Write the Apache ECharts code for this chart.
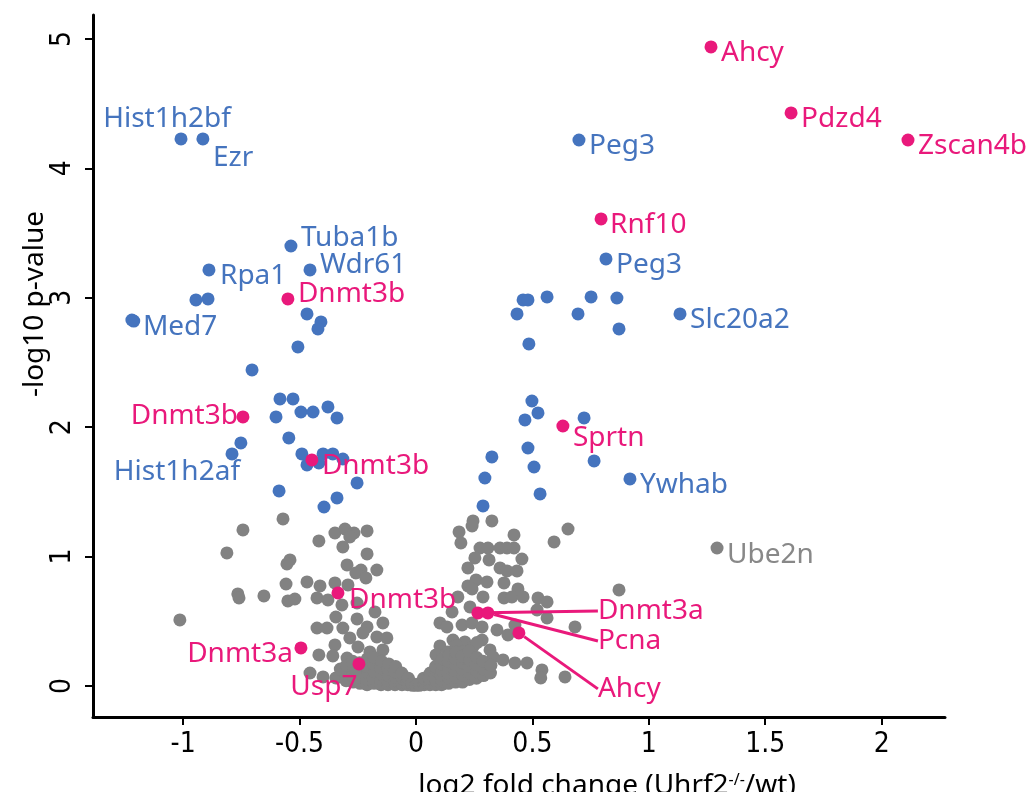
<!DOCTYPE html>
<html>
<head>
<meta charset="utf-8">
<script src="https://cdn.jsdelivr.net/npm/echarts@6/dist/echarts.min.js"></script>
<style>
  html, body { margin: 0; padding: 0; background: #fff; }
  #chart { width: 1027px; height: 792px; }
</style>
</head>
<body>
<div id="chart"></div>
<script>
// Volcano plot: log2 fold change (Uhrf2-/-/wt) vs -log10 p-value

const xTicks = [-1, -0.5, 0, 0.5, 1, 1.5, 2];
const yTicks = [0, 1, 2, 3, 4, 5];

// not significant, unlabeled
const grayPoints = [
  [0.872, 0.742], [-1.014, 0.510], [-0.743, 1.206], [-0.571, 1.291], [-0.812, 1.028],
  [-0.541, 0.974], [-0.554, 0.943], [-0.765, 0.711], [-0.760, 0.680], [-0.653, 0.696],
  [-0.558, 0.788], [-0.550, 0.657], [-0.520, 0.672], [-0.468, 0.804], [-0.417, 1.121],
  [-0.348, 1.182], [-0.305, 1.213], [-0.266, 1.182], [-0.284, 1.151], [-0.210, 1.198],
  [-0.314, 1.074], [-0.210, 1.020], [-0.296, 0.935], [-0.236, 0.896], [-0.168, 0.896],
  [-0.258, 0.873], [-0.215, 0.835], [-0.412, 0.773], [-0.348, 0.796], [-0.292, 0.781],
  [-0.425, 0.680], [-0.378, 0.665], [-0.318, 0.626], [-0.344, 0.533], [-0.425, 0.448],
  [-0.382, 0.448], [-0.314, 0.448], [-0.253, 0.518], [-0.210, 0.456], [-0.176, 0.572],
  [-0.142, 0.487], [-0.284, 0.371], [-0.228, 0.410], [-0.168, 0.379], [-0.125, 0.371],
  [-0.348, 0.317], [-0.249, 0.301], [-0.198, 0.263], [-0.142, 0.278], [-0.417, 0.240],
  [-0.357, 0.232], [-0.296, 0.216], [-0.455, 0.100], [-0.399, 0.070], [-0.344, 0.062],
  [-0.253, 0.641],
  [0.245, 1.275], [0.241, 1.236], [0.326, 1.275], [0.185, 1.190], [0.193, 1.105],
  [0.421, 1.167], [0.653, 1.213], [0.593, 1.113], [0.275, 1.066], [0.309, 1.066],
  [0.361, 1.066], [0.391, 1.066], [0.421, 1.066], [0.253, 0.989], [0.314, 0.974],
  [0.455, 0.981], [0.223, 0.912], [0.361, 0.912], [0.391, 0.889], [0.434, 0.889],
  [0.223, 0.773], [0.258, 0.819], [0.305, 0.804], [0.378, 0.796], [0.438, 0.750],
  [0.180, 0.688], [0.241, 0.750], [0.288, 0.688], [0.378, 0.680], [0.412, 0.688],
  [0.460, 0.688], [0.155, 0.572], [0.232, 0.611], [0.524, 0.680], [0.563, 0.649],
  [0.520, 0.587], [0.563, 0.526], [0.103, 0.487], [0.133, 0.456], [0.198, 0.471],
  [0.241, 0.487], [0.284, 0.456], [0.348, 0.433], [0.395, 0.394], [0.425, 0.471],
  [0.683, 0.456], [0.159, 0.355], [0.210, 0.340], [0.284, 0.355], [0.318, 0.278],
  [0.331, 0.224], [0.374, 0.201], [0.425, 0.178], [0.477, 0.178], [0.541, 0.124],
  [0.536, 0.062], [0.640, 0.070],
  [0.103, 0.309], [0.137, 0.263], [0.172, 0.309], [0.086, 0.240], [0.202, 0.263],
  [0.245, 0.302], [0.262, 0.335],
  // dense cloud near zero fold change
  [-0.33, 0.07], [-0.325, 0.13],
  [-0.30, 0.04], [-0.305, 0.10], [-0.298, 0.16],
  [-0.27, 0.03], [-0.273, 0.08], [-0.268, 0.14], [-0.272, 0.19],
  [-0.24, 0.02], [-0.243, 0.07], [-0.238, 0.12], [-0.242, 0.18],
  [-0.21, 0.01], [-0.212, 0.05], [-0.207, 0.10], [-0.213, 0.15], [-0.209, 0.21],
  [-0.18, 0.02], [-0.183, 0.06], [-0.178, 0.11], [-0.182, 0.17], [-0.179, 0.22],
  [-0.15, 0.01], [-0.152, 0.05], [-0.148, 0.09], [-0.151, 0.14], [-0.147, 0.19],
  [-0.12, 0.01], [-0.122, 0.04], [-0.118, 0.08], [-0.121, 0.13], [-0.117, 0.17],
  [-0.09, 0.01], [-0.092, 0.04], [-0.088, 0.07], [-0.091, 0.11], [-0.087, 0.15],
  [-0.06, 0.01], [-0.062, 0.03], [-0.058, 0.06], [-0.061, 0.10],
  [-0.035, 0.01], [-0.037, 0.03], [-0.033, 0.06],
  [-0.015, 0.005], [-0.017, 0.02],
  [0.0, 0.005],
  [0.015, 0.005], [0.017, 0.02],
  [0.035, 0.01], [0.037, 0.03], [0.033, 0.06],
  [0.06, 0.01], [0.062, 0.03], [0.058, 0.06], [0.061, 0.10],
  [0.085, 0.01], [0.087, 0.04], [0.083, 0.08], [0.086, 0.12], [0.084, 0.15],
  [0.11, 0.01], [0.112, 0.04], [0.108, 0.08], [0.111, 0.12], [0.109, 0.17], [0.113, 0.21],
  [0.14, 0.02], [0.142, 0.06], [0.138, 0.10], [0.141, 0.14], [0.139, 0.19], [0.143, 0.24],
  [0.17, 0.03], [0.172, 0.07], [0.168, 0.12], [0.171, 0.16], [0.169, 0.21], [0.173, 0.26],
  [0.20, 0.03], [0.202, 0.08], [0.198, 0.13], [0.201, 0.18], [0.199, 0.23],
  [0.23, 0.05], [0.232, 0.10], [0.228, 0.15], [0.231, 0.20], [0.229, 0.27],
  [0.26, 0.06], [0.262, 0.11], [0.258, 0.17], [0.261, 0.22],
  [0.29, 0.08], [0.292, 0.13], [0.288, 0.19],
  [0.32, 0.10], [0.322, 0.16]
];

// significant, unlabeled
const bluePoints = [
  [-0.893, 2.991], [-0.945, 2.983], [-1.212, 2.820], [-0.468, 2.875], [-0.408, 2.813],
  [-0.421, 2.759], [-0.507, 2.620], [-0.704, 2.442], [-0.584, 2.218], [-0.528, 2.218],
  [-0.601, 2.079], [-0.494, 2.117], [-0.442, 2.117], [-0.378, 2.156], [-0.339, 2.071],
  [-0.752, 1.878], [-0.546, 1.917], [-0.490, 1.793], [-0.468, 1.708], [-0.399, 1.793],
  [-0.357, 1.793], [-0.314, 1.754], [-0.417, 1.723], [-0.253, 1.569], [-0.588, 1.507],
  [-0.339, 1.453], [-0.395, 1.383],
  [0.460, 2.983], [0.481, 2.983], [0.563, 3.006], [0.434, 2.875], [0.752, 3.006],
  [0.863, 2.998], [0.696, 2.875], [0.872, 2.759], [0.485, 2.643], [0.498, 2.202],
  [0.524, 2.110], [0.468, 2.056], [0.722, 2.071], [0.481, 1.839], [0.507, 1.692],
  [0.765, 1.739], [0.533, 1.484], [0.326, 1.770], [0.296, 1.607], [0.288, 1.391]
];

// labeled genes: [name, log2FC, -log10 p]
const blueGenes = [
  ['Hist1h2bf', -1.009, 4.227], ['Ezr', -0.915, 4.227], ['Tuba1b', -0.537, 3.400],
  ['Wdr61', -0.455, 3.215], ['Rpa1', -0.889, 3.215], ['Med7', -1.220, 2.828],
  ['Hist1h2af', -0.790, 1.793], ['Peg3', 0.700, 4.219], ['Peg3', 0.816, 3.300],
  ['Slc20a2', 1.134, 2.875], ['Ywhab', 0.919, 1.600]
];
const pinkGenes = [
  ['Ahcy', 1.267, 4.938], ['Pdzd4', 1.611, 4.428], ['Zscan4b', 2.113, 4.219],
  ['Rnf10', 0.795, 3.609], ['Sprtn', 0.631, 2.009], ['Dnmt3b', -0.550, 2.991],
  ['Dnmt3b', -0.743, 2.079], ['Dnmt3b', -0.447, 1.747], ['Dnmt3b', -0.335, 0.719],
  ['Dnmt3a', -0.494, 0.294], ['Usp7', -0.245, 0.170], ['Dnmt3a', 0.266, 0.564],
  ['Pcna', 0.309, 0.564], ['Ahcy', 0.442, 0.410]
];
const grayGenes = [['Ube2n', 1.293, 1.066]];

// label placement per gene: [align, dx, dy, leader line]
const blueLabelSpots = [
  ['center', -14, -20], ['left', 10, 19], ['left', 10, -8], ['left', 10, -5],
  ['left', 11, 6], ['left', 11, 7], ['right', 8, 18], ['left', 10, 6],
  ['left', 10, 6], ['left', 10, 6], ['left', 10, 6]
];
const pinkLabelSpots = [
  ['left', 10, 6], ['left', 10, 6], ['left', 10, 6], ['left', 9, 6], ['left', 10, 12],
  ['left', 10, -5], ['right', -5, -1], ['left', 10, 6], ['left', 11, 7],
  ['right', -8, 6], ['center', -35, 23], ['left', 112, -2, true],
  ['left', 102, 28, true], ['left', 71, 56, true]
];
const grayLabelSpots = [['left', 10, 7]];

const BLUE = '#4574BE';
const PINK = '#E9197B';
const GRAY = '#828282';
const GRAY_TEXT = '#888888';
const LABEL_FONT = '"Noto Sans", "Open Sans", sans-serif';
const TICK_FONT = '"Liberation Sans Narrow", "DejaVu Sans Condensed", sans-serif';

function labeled(genes, spots, color) {
  return genes.map(function (g, i) {
    const s = spots[i];
    const leader = !!s[3];
    return {
      name: g[0],
      value: [g[1], g[2]],
      label: {
        show: true,
        formatter: '{b}',
        position: 'inside',
        align: s[0],
        verticalAlign: 'middle',
        offset: [s[1], s[2]],
        color: color,
        fontFamily: LABEL_FONT,
        fontSize: 28,
        padding: leader ? [0, 0, 0, 8] : 0
      },
      labelLine: {
        show: leader,
        length2: 0,
        lineStyle: { color: color, width: 3, opacity: 1 }
      }
    };
  });
}

const chart = echarts.init(document.getElementById('chart'), null, { renderer: 'canvas' });

chart.setOption({
  animation: false,
  backgroundColor: '#ffffff',
  grid: { left: 93, right: 82, top: 15, bottom: 75, containLabel: false, outerBoundsMode: 'none' },
  xAxis: {
    type: 'value',
    min: -1.387,
    max: 2.272,
    splitLine: { show: false },
    axisLine: { show: true, onZero: false, lineStyle: { color: '#000', width: 3 } },
    axisTick: { show: true, customValues: xTicks, length: 8, lineStyle: { color: '#000', width: 2 } },
    axisLabel: {
      customValues: xTicks,
      formatter: function (v) { return String(v); },
      color: '#000',
      fontFamily: TICK_FONT,
      fontSize: 28,
      margin: 14
    }
  },
  yAxis: {
    type: 'value',
    min: -0.24,
    max: 5.185,
    splitLine: { show: false },
    axisLine: { show: true, onZero: false, lineStyle: { color: '#000', width: 3 } },
    axisTick: { show: true, customValues: yTicks, length: 8, lineStyle: { color: '#000', width: 2 } },
    axisLabel: {
      customValues: yTicks,
      formatter: function (v) { return String(v); },
      rotate: 90,
      color: '#000',
      fontFamily: TICK_FONT,
      fontSize: 28,
      margin: 16
    }
  },
  graphic: [
    {
      type: 'text',
      x: 35,
      y: 304,
      rotation: Math.PI / 2,
      style: {
        text: '-log10 p-value',
        font: '28px ' + LABEL_FONT,
        fill: '#000',
        align: 'center',
        verticalAlign: 'middle'
      }
    },
    {
      type: 'text',
      x: 607,
      y: 786,
      style: {
        text: '{a|log2 fold change (Uhrf2}{s|-/-}{a|/wt)}',
        align: 'center',
        verticalAlign: 'middle',
        rich: {
          a: { fontSize: 28, fontFamily: LABEL_FONT, fill: '#000', color: '#000' },
          s: { fontSize: 16, fontFamily: LABEL_FONT, fill: '#000', color: '#000', verticalAlign: 'top' }
        }
      }
    }
  ],
  series: [
    {
      type: 'scatter',
      symbolSize: 13,
      itemStyle: { color: GRAY, opacity: 1 },
      emphasis: { disabled: true },
      data: grayPoints.map(function (p) { return { value: p }; })
        .concat(labeled(grayGenes, grayLabelSpots, GRAY_TEXT)),
      z: 2
    },
    {
      type: 'scatter',
      symbolSize: 13,
      itemStyle: { color: BLUE, opacity: 1 },
      emphasis: { disabled: true },
      data: bluePoints.map(function (p) { return { value: p }; })
        .concat(labeled(blueGenes, blueLabelSpots, BLUE)),
      z: 3
    },
    {
      type: 'scatter',
      symbolSize: 13,
      itemStyle: { color: PINK, opacity: 1 },
      emphasis: { disabled: true },
      data: labeled(pinkGenes, pinkLabelSpots, PINK),
      z: 4
    }
  ]
});
</script>
</body>
</html>
